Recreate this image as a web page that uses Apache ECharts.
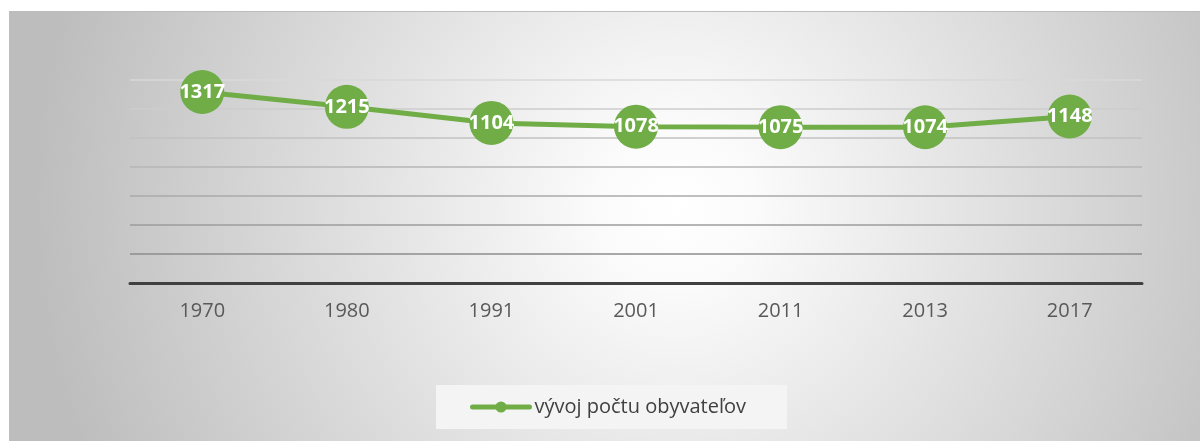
<!DOCTYPE html>
<html>
<head>
<meta charset="utf-8">
<script src="https://cdn.jsdelivr.net/npm/echarts@6/dist/echarts.min.js"></script>
<style>
  body { margin: 0; background: #fff; }
  #main { position: absolute; left: 9px; top: 11px; width: 1191px; height: 430px; border-top: 1px solid #bdbdbd; box-sizing: border-box; }
</style>
</head>
<body>
<div id="main"></div>
<script>
// roky a počty obyvateľov
var years = ['1970', '1980', '1991', '2001', '2011', '2013', '2017'];
var population = [1317, 1215, 1104, 1078, 1075, 1074, 1148];
var seriesName = 'vývoj počtu obyvateľov';

var chart = echarts.init(document.getElementById('main'));

var option = {
    backgroundColor: new echarts.graphic.RadialGradient(0.56, 0.45, 1.5, [
        { offset: 0, color: '#ffffff' },
        { offset: 0.12, color: '#fbfbfb' },
        { offset: 1, color: '#bdbdbd' }
    ]),
    textStyle: { fontFamily: 'Open Sans' },
    grid: { left: 121, right: 58, top: 68, bottom: 158 },
    legend: {
        data: [seriesName],
        left: 427,
        top: 373,
        padding: [12, 41, 12, 34],
        backgroundColor: '#f4f4f4',
        itemWidth: 57,
        itemHeight: 14,
        lineStyle: { width: 5, cap: 'round' },
        textStyle: { fontSize: 20, color: '#404040', fontFamily: 'Open Sans' }
    },
    xAxis: {
        type: 'category',
        data: years,
        axisLine: { lineStyle: { color: '#404040', width: 3 } },
        axisTick: { show: false },
        axisLabel: { fontSize: 20, color: '#595959', margin: 18 },
        splitLine: { show: false }
    },
    yAxis: {
        type: 'value',
        min: 0,
        max: 1400,
        interval: 200,
        axisLabel: { show: false },
        axisLine: { show: false },
        axisTick: { show: false },
        splitLine: {
            lineStyle: {
                // od spodu nahor - tmavšie dole, svetlejšie hore
                color: ['#888888', '#8c8c8c', '#9c9c9c', '#aaaaaa', '#b6b6b6', '#c2c2c2', '#cdcdcd', '#d9d9d9'],
                width: 1.5
            }
        }
    },
    series: [
        {
            name: seriesName,
            type: 'line',
            data: population,
            symbol: 'circle',
            symbolSize: 44,
            itemStyle: { color: '#70AD47' },
            lineStyle: { color: '#70AD47', width: 5 },
            label: {
                show: true,
                position: 'inside',
                color: '#fff',
                fontWeight: 'bold',
                fontSize: 20,
                fontFamily: 'Open Sans'
            }
        }
    ]
};

chart.setOption(option);
</script>
</body>
</html>
